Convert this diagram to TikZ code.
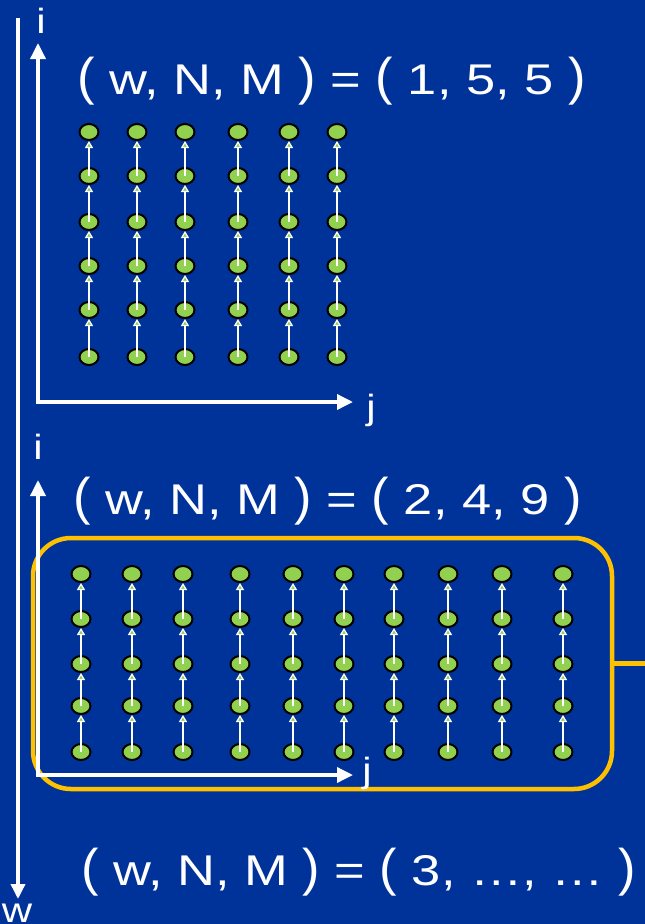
\documentclass[tikz,border=0pt]{standalone}
\usepackage{fontspec}
\setmainfont{Liberation Sans}
\usepackage{graphicx}
\usetikzlibrary{arrows.meta,shapes.geometric}
\definecolor{bg}{RGB}{0,51,153}
\definecolor{ngreen}{RGB}{146,208,80}
\definecolor{borange}{RGB}{255,192,0}
\newcommand{\myLP}{\scalebox{1}[1.2]{(}}
\newcommand{\myRP}{\scalebox{1}[1.2]{)}}
\newcommand{\myTitle}[1]{\scalebox{1.22}[1]{#1}}
\newcommand{\myLbl}[1]{\scalebox{1.2}[1]{#1}}
\begin{document}
\begin{tikzpicture}[x=1pt,y=-1pt,
  dot/.style={ellipse, draw=black, fill=ngreen, line width=2pt, minimum width=19pt, minimum height=16pt, inner sep=0pt},
  dep/.style={draw=white, line width=2.7pt, -{Triangle[width=8pt,length=7pt,fill=ngreen,line width=1.2pt]}},
  axes/.style={draw=white, line width=3.5pt, {Triangle[width=15pt,length=16pt]}-{Triangle[width=15pt,length=16pt]}},
  waxis/.style={draw=white, line width=3.5pt, -{Triangle[width=14pt,length=15pt]}},
  lbl/.style={text=white, font=\fontsize{35}{35}\selectfont, inner sep=0pt},
  ttl/.style={text=white, font=\fontsize{43}{50}\selectfont, inner sep=0pt, anchor=base west},
  frame/.style={draw=borange, line width=4.5pt, rounded corners=38pt, minimum width=579pt, minimum height=251pt, inner sep=0pt}
]
\fill[bg] (0,0) rectangle (645,924);
\useasboundingbox (0,0) rectangle (645,924);

% w axis
\coordinate (wtop) at (18,18);
\coordinate (wbot) at (18,899);
\draw[waxis] (wtop) -- (wbot);
\node[lbl] (wl) at (17,913) {\myLbl{w}};

% top panel
\node[ttl] (t1) at (77,94) {\myTitle{\myLP{} w, N, M \myRP{} = \myLP{} 1, 5, 5 \myRP}};
\coordinate (o1) at (38,402);
\coordinate (i1) at (38,43);
\coordinate (j1) at (353,402);
\draw[axes] (i1) -- (o1) -- (j1);
\node[lbl] (il1) at (41,21) {\myLbl{i}};
\node[lbl] (jl1) at (371,410) {\myLbl{j}};
\foreach \x [count=\c] in {89,137,185,238,289,337}
  \foreach \y [count=\r] in {132,176,222,266,310,357}
    \node[dot] (t-\c-\r) at (\x,\y) {};
\foreach \c in {1,...,6}
  \foreach \r [count=\s from 2] in {1,...,5}
    \draw[dep] (t-\c-\s.center) -- (t-\c-\r.south);

% middle panel
\node[ttl] (t2) at (73,514) {\myTitle{\myLP{} w, N, M \myRP{} = \myLP{} 2, 4, 9 \myRP}};
\node[frame] (box) at (322.5,663.5) {};
\coordinate (bx) at (645,663.5);
\draw[draw=borange, line width=4.5pt] (box.east) -- (bx);
\coordinate (o2) at (38,775);
\coordinate (i2) at (38,480);
\coordinate (j2) at (353,775);
\draw[axes] (i2) -- (o2) -- (j2);
\node[lbl] (il2) at (38,447) {\myLbl{i}};
\node[lbl] (jl2) at (367,773) {\myLbl{j}};
\foreach \x [count=\c] in {81,132,183,240,293,344,394,448,502,563}
  \foreach \y [count=\r] in {574,619,664,706,752}
    \node[dot] (b-\c-\r) at (\x,\y) {};
\foreach \c in {1,...,10}
  \foreach \r [count=\s from 2] in {1,...,4}
    \draw[dep] (b-\c-\s.center) -- (b-\c-\r.south);

% bottom
\node[ttl] (t3) at (81,885) {\myTitle{\myLP{} w, N, M \myRP{} = \myLP{} 3, …, … \myRP}};
\end{tikzpicture}
\end{document}
